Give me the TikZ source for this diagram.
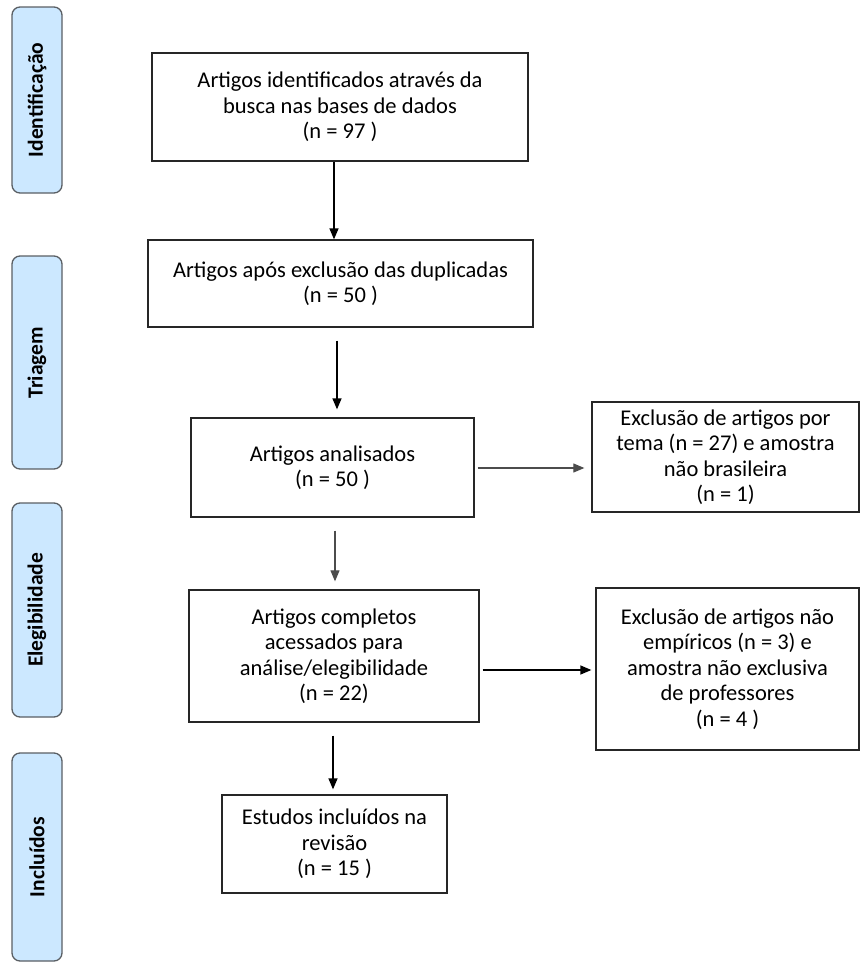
\documentclass[tikz,border=0pt]{standalone}
\usepackage{fontspec}
\setmainfont{Carlito}
\usetikzlibrary{arrows.meta}
\definecolor{sidefill}{RGB}{204,232,255}
\definecolor{sidedraw}{RGB}{90,95,100}
\begin{document}
\begin{tikzpicture}[x=1pt,y=1pt,
  box/.style={draw=black!85, line width=1.3pt, fill=white, align=center, inner sep=2pt,
    font=\fontsize{22.5}{25.5}\selectfont},
  side/.style={draw=sidedraw, line width=1.3pt, fill=sidefill, rounded corners=8pt,
    minimum width=50pt},
  sidetext/.style={rotate=90, font=\bfseries\fontsize{21.5}{24}\selectfont},
  arr/.style={-{Triangle[length=11pt,width=9pt]}, line width=1.3pt, black},
  garr/.style={-{Triangle[length=11pt,width=9pt]}, line width=1.1pt, black!70}]
\useasboundingbox (0,0) rectangle (861,-962);
% side panels
\node[side, minimum height=186pt] (s1) at (37,-100) {};
\node[sidetext] (t1) at (s1.center) {Identificação};
\node[side, minimum height=213pt] (s2) at (37,-362.5) {};
\node[sidetext] (t2) at (s2.center) {Triagem};
\node[side, minimum height=214pt] (s3) at (37,-610) {};
\node[sidetext] (t3) at (s3.center) {Elegibilidade};
\node[side, minimum height=208pt] (s4) at (37,-857) {};
\node[sidetext] (t4) at (s4.center) {Incluídos};
% main boxes
\node[box, minimum width=376pt, minimum height=108pt] (b1) at (340,-107)
  {Artigos identificados através da\\busca nas bases de dados\\(n = 97 )};
\node[box, minimum width=385pt, minimum height=87pt] (b2) at (340.5,-283.5)
  {Artigos após exclusão das duplicadas\\(n = 50 )};
\node[box, minimum width=283pt, minimum height=99pt] (b3) at (332.5,-467.5)
  {Artigos analisados\\(n = 50 )};
\node[box, minimum width=290pt, minimum height=132pt] (b4) at (334,-656)
  {Artigos completos\\acessados para\\análise/elegibilidade\\(n = 22)};
\node[box, minimum width=225pt, minimum height=98pt] (b5) at (334.5,-844)
  {Estudos incluídos na\\revisão\\(n = 15 )};
\node[box, minimum width=267pt, minimum height=110pt] (r1) at (725.5,-457)
  {Exclusão de artigos por\\tema (n = 27) e amostra\\não brasileira\\(n = 1)};
\node[box, minimum width=263pt, minimum height=162pt] (r2) at (727.5,-669)
  {Exclusão de artigos não\\empíricos (n = 3) e\\amostra não exclusiva\\de professores\\(n = 4 )};
% arrows
\draw[arr] (334,0 |- b1.south) -- (334,0 |- b2.north);
\draw[arr, shorten <=13pt, shorten >=8pt] (337,0 |- b2.south) -- (337,0 |- b3.north);
\draw[garr, shorten <=3pt, shorten >=7pt] (b3.east |- 0,-468) -- (r1.west |- 0,-468);
\draw[garr, shorten <=13pt, shorten >=8pt] (335,0 |- b3.south) -- (335,0 |- b4.north);
\draw[arr, shorten <=3pt, shorten >=4pt] (b4.east |- 0,-670) -- (r2.west |- 0,-670);
\draw[arr, shorten <=13pt, shorten >=5pt] (333,0 |- b4.south) -- (333,0 |- b5.north);
\end{tikzpicture}
\end{document}
